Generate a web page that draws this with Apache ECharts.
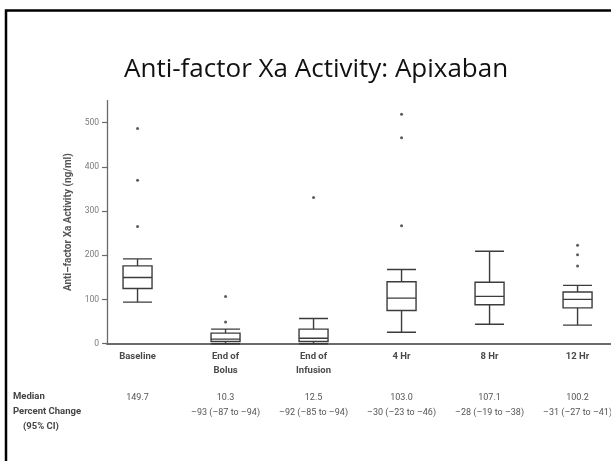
<!DOCTYPE html>
<html>
<head>
<meta charset="utf-8">
<script src="https://cdn.jsdelivr.net/npm/echarts@6/dist/echarts.min.js"></script>
<style>
html,body{margin:0;padding:0;background:#fff;}
#chart{width:611px;height:461px;}
</style>
</head>
<body>
<div id="chart"></div>
<script>
// ---- data ----
const categories = ['Baseline', 'End of\nBolus', 'End of\nInfusion', '4 Hr', '8 Hr', '12 Hr'];
const boxMin    = [94, 0, 0, 26, 44, 42];
const boxQ1     = [125, 5, 5, 75, 88, 81];
const boxMedian = [149.7, 10.3, 12.5, 103.0, 107.1, 100.2];
const boxQ3     = [176, 24, 33, 140, 139, 117];
const boxMax    = [192, 33, 57, 168, 209, 132];
const outlierGroup = [0, 0, 0, 1, 1, 2, 3, 3, 3, 5, 5, 5];
const outlierValue = [487, 370, 265, 107, 49, 331, 519, 466, 267, 223, 201, 176];
const medianText = ['149.7', '10.3', '12.5', '103.0', '107.1', '100.2'];
const pctChangeText = ['', '–93 (–87 to –94)', '–92 (–85 to –94)', '–30 (–23 to –46)', '–28 (–19 to –38)', '–31 (–27 to –41)'];
const yTicks = [0, 100, 200, 300, 400, 500];
const titleText = 'Anti-factor Xa Activity: Apixaban';
const yName = 'Anti–factor Xa Activity (ng/ml)';
const rowLabels = ['Median', 'Percent Change', '(95% CI)'];

// ---- build ----
const idx = categories.map((c, i) => i);
const boxData = idx.map(i => [i, boxMin[i], boxQ1[i], boxMedian[i], boxQ3[i], boxMax[i]]);
const outlierData = outlierGroup.map((g, i) => [g, outlierValue[i]]);

const FONT = 'Roboto, "Noto Sans", sans-serif';
const chart = echarts.init(document.getElementById('chart'), null, {renderer: 'canvas'});

const xCommon = {
  type: 'value', min: -0.347, max: 5.38, gridIndex: 0,
  splitLine: {show: false}, axisTick: {show: false}
};

chart.setOption({
  animation: false,
  backgroundColor: '#fff',
  title: {
    text: titleText, left: 119, top: 52,
    textStyle: {fontFamily: '"Open Sans", sans-serif', fontSize: 26, fontWeight: 'normal', color: '#111'}
  },
  grid: {left: 107, right: 0, top: 100.6, bottom: 117.3, containLabel: false, outerBoundsMode: 'none'},
  xAxis: [
    Object.assign({}, xCommon, {
      position: 'bottom',
      axisLine: {show: true, onZero: false, lineStyle: {color: '#6a6a6a', width: 2}},
      axisLabel: {
        customValues: idx, margin: 6,
        formatter: v => categories[Math.round(v)] || '',
        fontFamily: FONT, fontSize: 9.5, fontWeight: 'bold', color: '#4a4a4a', lineHeight: 14
      }
    }),
    Object.assign({}, xCommon, {
      position: 'bottom',
      axisLine: {show: false, onZero: false},
      axisLabel: {
        customValues: idx, margin: 47,
        formatter: v => { const i = Math.round(v); return medianText[i] + '\n' + pctChangeText[i]; },
        fontFamily: FONT, fontSize: 9, color: '#555', lineHeight: 15
      }
    })
  ],
  yAxis: {
    type: 'value', min: 0, max: 550, interval: 100,
    name: yName, nameLocation: 'middle', nameRotate: 90, nameGap: 34,
    nameTextStyle: {fontFamily: FONT, fontSize: 10, fontWeight: 'bold', color: '#555'},
    splitLine: {show: false},
    axisLine: {show: true, onZero: false, lineStyle: {color: '#6a6a6a', width: 1.3}},
    axisTick: {show: true, length: 5, customValues: yTicks, lineStyle: {color: '#6a6a6a', width: 1.2}},
    axisLabel: {customValues: yTicks, margin: 8, fontFamily: FONT, fontSize: 8.5, color: '#7a7a7a'}
  },
  series: [
    {
      type: 'boxplot', xAxisIndex: 0, yAxisIndex: 0,
      data: boxData,
      boxWidth: [29, 29],
      itemStyle: {color: 'rgba(255,255,255,0)', borderColor: '#3c3c3c', borderWidth: 1.4}
    },
    {
      type: 'scatter', xAxisIndex: 0, yAxisIndex: 0,
      data: outlierData, symbol: 'circle', symbolSize: 3,
      itemStyle: {color: '#333'}
    }
  ],
  graphic: [
    {type: 'rect', shape: {x: 6, y: 10.5, width: 700, height: 500},
     style: {fill: 'none', stroke: '#000', lineWidth: 2.5}, silent: true},
    {type: 'text', left: 13, top: 392, style: {text: rowLabels[0], font: 'bold 9.5px ' + FONT, fill: '#444'}},
    {type: 'text', left: 13, top: 407, style: {text: rowLabels[1], font: 'bold 9.5px ' + FONT, fill: '#444'}},
    {type: 'text', left: 23, top: 422, style: {text: rowLabels[2], font: 'bold 9.5px ' + FONT, fill: '#444'}}
  ]
});
</script>
</body>
</html>
